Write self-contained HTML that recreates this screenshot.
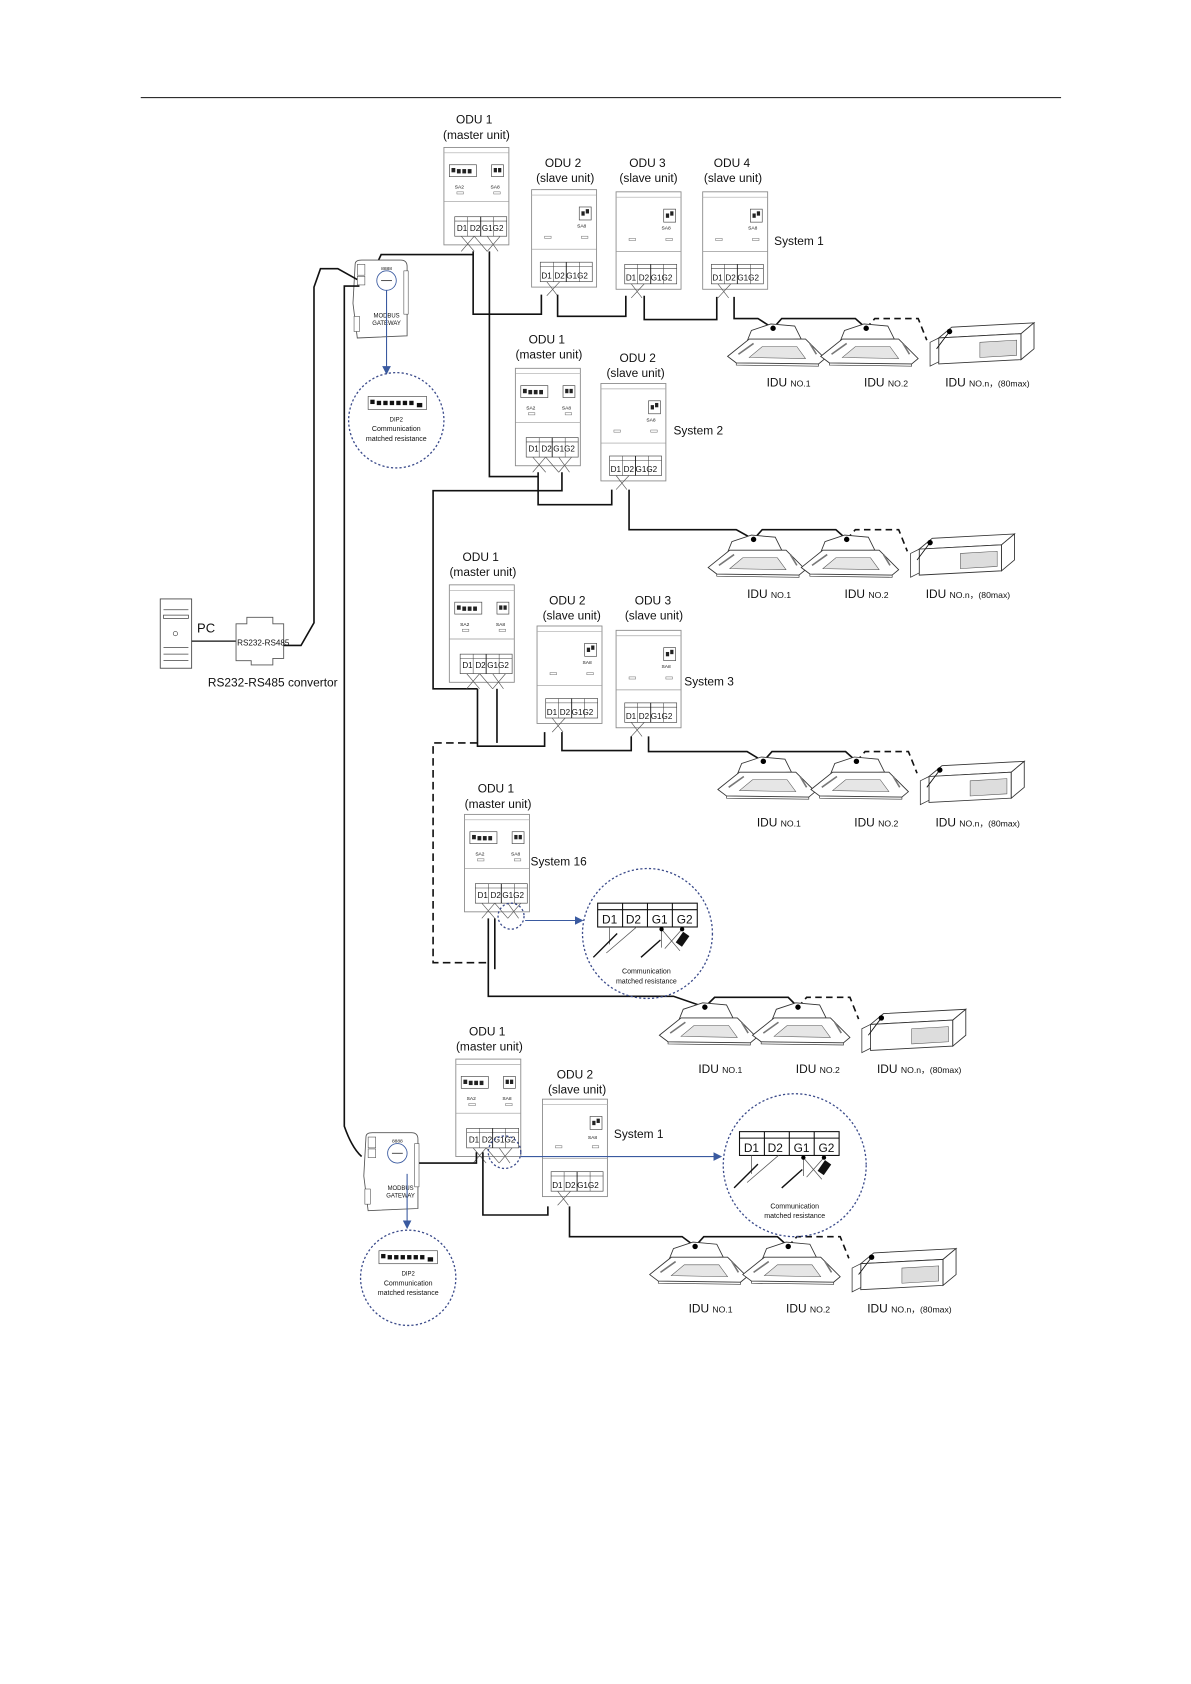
<!DOCTYPE html>
<html><head><meta charset="utf-8"><style>
html,body{margin:0;padding:0;background:#fff}
svg{display:block}
text{font-family:"Liberation Sans",sans-serif;fill:#111}
.w{fill:none;stroke:#111;stroke-width:1.5}
.t{fill:none;stroke:#555;stroke-width:0.6}
.box{fill:#fff;stroke:#888;stroke-width:0.8}
.blue{stroke:#3a5aa0;fill:none;stroke-width:1}
.dc{fill:none;stroke:#3a4a8a;stroke-width:1.2;stroke-dasharray:2 2}
</style></head><body>
<svg width="1191" height="1684" viewBox="0 0 1100 1555" xmlns="http://www.w3.org/2000/svg">
<defs>
<g id="master">
<rect class="box" x="0" y="0" width="60" height="90"/>
<line x1="0" y1="5" x2="60" y2="5" stroke="#aaa" stroke-width="0.6"/>
<rect x="5" y="16" width="25" height="11" fill="#fff" stroke="#444" stroke-width="0.6"/>
<rect x="7" y="19" width="3.5" height="4" fill="#222"/><rect x="12" y="20" width="3.5" height="4" fill="#222"/><rect x="17" y="20" width="3.5" height="4" fill="#222"/><rect x="22" y="20" width="3.5" height="4" fill="#222"/>
<rect x="44" y="16" width="11" height="11" fill="#fff" stroke="#444" stroke-width="0.6"/>
<rect x="46" y="19" width="3" height="4" fill="#222"/><rect x="50" y="19" width="3" height="4" fill="#222"/>
<rect x="12" y="41" width="6" height="2" fill="none" stroke="#777" stroke-width="0.5"/>
<rect x="46" y="41" width="6" height="2" fill="none" stroke="#777" stroke-width="0.5"/>
<line x1="0" y1="50" x2="60" y2="50" stroke="#999" stroke-width="0.6"/>
<rect x="10" y="64" width="48" height="18" fill="#fff" stroke="#444" stroke-width="0.6"/>
<line x1="10" y1="68" x2="58" y2="68" stroke="#444" stroke-width="0.5"/>
<line x1="22" y1="64" x2="22" y2="82" stroke="#444" stroke-width="0.5"/>
<line x1="34" y1="64" x2="34" y2="82" stroke="#111" stroke-width="0.8"/>
<line x1="46" y1="64" x2="46" y2="82" stroke="#444" stroke-width="0.5"/>
<path class="t" d="M16 82 L28 96 M28 82 L16 96 M40 82 L50 96 M52 82 L40 96 M28 82 L40 96"/>
</g>
<g id="slave">
<rect class="box" x="0" y="0" width="60" height="90"/>
<line x1="0" y1="5" x2="60" y2="5" stroke="#aaa" stroke-width="0.6"/>
<rect x="44" y="16" width="11" height="12" fill="#fff" stroke="#444" stroke-width="0.6"/>
<rect x="46" y="20" width="3" height="4" fill="#222"/><rect x="50" y="18" width="3" height="4" fill="#222"/>
<rect x="12" y="43" width="6" height="2" fill="none" stroke="#777" stroke-width="0.5"/>
<rect x="46" y="43" width="6" height="2" fill="none" stroke="#777" stroke-width="0.5"/>
<line x1="0" y1="55" x2="60" y2="55" stroke="#999" stroke-width="0.6"/>
<rect x="8" y="67" width="48" height="18" fill="#fff" stroke="#444" stroke-width="0.6"/>
<line x1="8" y1="71" x2="56" y2="71" stroke="#444" stroke-width="0.5"/>
<line x1="20" y1="67" x2="20" y2="85" stroke="#444" stroke-width="0.5"/>
<line x1="32" y1="67" x2="32" y2="85" stroke="#111" stroke-width="0.8"/>
<line x1="44" y1="67" x2="44" y2="85" stroke="#444" stroke-width="0.5"/>
<path class="t" d="M14 85 L24 98 M26 85 L14 98"/>
</g>
<g id="cas">
<path d="M-24 12 L-20 2 L-2 -4 L20 -2 L26 10 Z" fill="#fff" stroke="#333" stroke-width="0.8"/>
<path d="M-42 26 L-22 10 L30 10 L48 28 L42 33 L-34 32 Z" fill="#fff" stroke="#333" stroke-width="0.8"/>
<path d="M-34 32 L-34 34 L42 35 L42 33" fill="none" stroke="#333" stroke-width="0.6"/>
<path d="M-22 27 L-10 17 L22 17 L30 28 Z" fill="#e6e6e6" stroke="#555" stroke-width="0.5"/>
<path d="M-32 24 L-18 14 M34 14 L40 24" stroke="#777" stroke-width="1.5"/>
<circle cx="0" cy="0" r="2.5" fill="#000"/>
</g>
<g id="duct">
<path d="M-10 6 L2 -4 L78 -8 L66 2 Z" fill="#fff" stroke="#333" stroke-width="0.8"/>
<path d="M-10 6 L66 2 L66 26 L-10 30 Z" fill="#fff" stroke="#333" stroke-width="0.8"/>
<path d="M66 2 L78 -8 L78 16 L66 26 Z" fill="#fff" stroke="#333" stroke-width="0.8"/>
<path d="M-18 10 L-10 6 L-10 28 L-18 32 Z" fill="#fff" stroke="#333" stroke-width="0.7"/>
<path d="M28 10 L62 8 L62 22 L28 24 Z" fill="#ddd" stroke="#555" stroke-width="0.5"/>
<path d="M0 0 L-12 16" stroke="#111" stroke-width="0.8"/>
<circle cx="0" cy="0" r="2.5" fill="#000"/>
</g>
<g id="gw">
<path d="M2 4 Q2 0 8 0 L44 0 Q50 0 50 6 L50 70 L4 72 L0 40 Z" fill="#fff" stroke="#555" stroke-width="0.8"/>
<rect x="4" y="4" width="7" height="10" fill="#fff" stroke="#444" stroke-width="0.5"/>
<rect x="4" y="15" width="7" height="8" fill="#fff" stroke="#444" stroke-width="0.5"/>
<rect x="47" y="10" width="4" height="40" fill="#fff" stroke="#444" stroke-width="0.5"/>
<rect x="1" y="52" width="5" height="14" fill="#fff" stroke="#444" stroke-width="0.5"/>
<circle cx="31" cy="19" r="9" fill="#fff" stroke="#3a5aa0" stroke-width="0.8"/>
<line x1="26" y1="19" x2="36" y2="19" stroke="#333" stroke-width="0.8"/>
<text x="31" y="9" font-size="4.5" text-anchor="middle">8888</text>
</g>
<g id="dip">
<rect x="-27" y="-8" width="54" height="12" fill="#fff" stroke="#444" stroke-width="0.6"/>
<rect x="-25" y="-5" width="4" height="4" fill="#111"/><rect x="-19" y="-4" width="4" height="4" fill="#111"/><rect x="-13" y="-4" width="4" height="4" fill="#111"/><rect x="-7" y="-4" width="4" height="4" fill="#111"/><rect x="-1" y="-4" width="4" height="4" fill="#111"/><rect x="5" y="-4" width="4" height="4" fill="#111"/><rect x="11" y="-4" width="4" height="4" fill="#111"/><rect x="18" y="-2" width="5" height="4" fill="#111"/>
</g>
<marker id="ar" markerWidth="8" markerHeight="8" refX="7" refY="4" orient="auto"><path d="M0 0 L8 4 L0 8 Z" fill="#3a5aa0"/></marker>
</defs>

<line x1="130" y1="90" x2="980" y2="90" stroke="#111" stroke-width="1"/>

<!-- ===== System 1 ===== -->
<text x="438" y="114" font-size="11" text-anchor="middle">ODU 1</text>
<text x="440" y="128" font-size="11" text-anchor="middle">(master unit)</text>
<use href="#master" x="410" y="136"/>
<text x="420" y="174" font-size="4.5">SA2</text><text x="453" y="174" font-size="4.5">SA8</text>
<text x="422" y="213" font-size="7.5">D1</text><text x="434" y="213" font-size="7.5">D2</text><text x="445" y="213" font-size="7.5">G1G2</text>

<text x="520" y="154" font-size="11" text-anchor="middle">ODU 2</text>
<text x="522" y="168" font-size="11" text-anchor="middle">(slave unit)</text>
<use href="#slave" x="491" y="175"/>
<text x="533" y="210" font-size="4.5">SA8</text>
<text x="500" y="257" font-size="7.5">D1</text><text x="512" y="257" font-size="7.5">D2</text><text x="523" y="257" font-size="7.5">G1G2</text>

<text x="598" y="154" font-size="11" text-anchor="middle">ODU 3</text>
<text x="599" y="168" font-size="11" text-anchor="middle">(slave unit)</text>
<use href="#slave" x="569" y="177"/>
<text x="611" y="212" font-size="4.5">SA8</text>
<text x="578" y="259" font-size="7.5">D1</text><text x="590" y="259" font-size="7.5">D2</text><text x="601" y="259" font-size="7.5">G1G2</text>

<text x="676" y="154" font-size="11" text-anchor="middle">ODU 4</text>
<text x="677" y="168" font-size="11" text-anchor="middle">(slave unit)</text>
<use href="#slave" x="649" y="177"/>
<text x="691" y="212" font-size="4.5">SA8</text>
<text x="658" y="259" font-size="7.5">D1</text><text x="670" y="259" font-size="7.5">D2</text><text x="681" y="259" font-size="7.5">G1G2</text>
<text x="715" y="226" font-size="11">System 1</text>

<path class="w" d="M345 250 L352 235 L437 235"/>
<path class="w" d="M437 232 L437 290 L500 290 L500 272"/>
<path class="w" d="M452 232 L452 440 L497 440"/>
<path class="w" d="M515 272 L515 292 L578 292 L578 273"/>
<path class="w" d="M595 273 L595 295 L662 295 L662 274"/>
<path class="w" d="M678 274 L678 294 L700 294 L714 303 L722 294 L790 294 L800 303"/>
<path class="w" d="M800 303 L808 294 L848 294 L856 314" stroke-dasharray="6 4"/>
<use href="#cas" x="714" y="303"/><use href="#cas" x="800" y="303"/><use href="#duct" x="877" y="306"/>
<text x="708" y="357" font-size="11">IDU</text><text x="730" y="357" font-size="8">NO.1</text>
<text x="798" y="357" font-size="11">IDU</text><text x="820" y="357" font-size="8">NO.2</text>
<text x="873" y="357" font-size="11">IDU</text><text x="895" y="357" font-size="8">NO.n，(80max)</text>

<!-- gateway 1 -->
<use href="#gw" x="326" y="240"/>
<text x="357" y="293" font-size="5.5" text-anchor="middle">MODBUS</text>
<text x="357" y="300" font-size="5.5" text-anchor="middle">GATEWAY</text>
<line x1="357" y1="268" x2="357" y2="345" class="blue" marker-end="url(#ar)"/>
<circle cx="366" cy="388" r="44" class="dc"/>
<use href="#dip" x="367" y="374"/>
<text x="366" y="389" font-size="5.5" text-anchor="middle">DIP2</text>
<text x="366" y="398" font-size="6.5" text-anchor="middle">Communication</text>
<text x="366" y="407" font-size="6.5" text-anchor="middle">matched resistance</text>

<!-- PC and convertor -->
<rect x="148" y="553" width="29" height="64" fill="#fff" stroke="#444" stroke-width="0.8"/>
<path d="M151 563 L174 563 M151 568 L174 568 L174 571 L151 571 Z M151 598 L174 598 M151 604 L174 604 M151 610 L174 610" stroke="#444" fill="none" stroke-width="0.7"/>
<circle cx="162" cy="585" r="2" fill="none" stroke="#444" stroke-width="0.6"/>
<text x="182" y="584" font-size="12">PC</text>
<line x1="177" y1="592" x2="218" y2="592" stroke="#111" stroke-width="1.2"/>
<path d="M218 576 L228 576 L228 570 L252 570 L252 576 L262 576 L262 608 L252 608 L252 614 L232 614 L232 610 L218 610 Z" fill="#fff" stroke="#555" stroke-width="0.8"/>
<text x="219" y="596" font-size="7.5">RS232-RS485</text>
<text x="192" y="634" font-size="11">RS232-RS485 convertor</text>
<path class="w" d="M262 596 L278 596 L290 575 L290 265 L296 248 L312 248 L330 258" stroke-width="1.3"/>
<path class="w" d="M332 264 L318 264 L318 1040 Q325 1060 334 1068" stroke-width="1.3"/>

<!-- ===== System 2 ===== -->
<text x="505" y="317" font-size="11" text-anchor="middle">ODU 1</text>
<text x="507" y="331" font-size="11" text-anchor="middle">(master unit)</text>
<use href="#master" x="476" y="340"/>
<text x="486" y="378" font-size="4.5">SA2</text><text x="519" y="378" font-size="4.5">SA8</text>
<text x="488" y="417" font-size="7.5">D1</text><text x="500" y="417" font-size="7.5">D2</text><text x="511" y="417" font-size="7.5">G1G2</text>
<text x="589" y="334" font-size="11" text-anchor="middle">ODU 2</text>
<text x="587" y="348" font-size="11" text-anchor="middle">(slave unit)</text>
<use href="#slave" x="555" y="354"/>
<text x="597" y="389" font-size="4.5">SA8</text>
<text x="564" y="436" font-size="7.5">D1</text><text x="576" y="436" font-size="7.5">D2</text><text x="587" y="436" font-size="7.5">G1G2</text>
<text x="622" y="401" font-size="11">System 2</text>
<path class="w" d="M519 436 L519 453 L400 453 L400 636 L441 636"/>
<path class="w" d="M497 436 L497 466 L565 466 L565 452"/>
<path class="w" d="M581 452 L581 489 L680 489 L696 498 L704 489 L772 489 L782 498"/>
<path class="w" d="M782 498 L790 489 L830 489 L838 509" stroke-dasharray="6 4"/>
<use href="#cas" x="696" y="498"/><use href="#cas" x="782" y="498"/><use href="#duct" x="859" y="501"/>
<text x="690" y="552" font-size="11">IDU</text><text x="712" y="552" font-size="8">NO.1</text>
<text x="780" y="552" font-size="11">IDU</text><text x="802" y="552" font-size="8">NO.2</text>
<text x="855" y="552" font-size="11">IDU</text><text x="877" y="552" font-size="8">NO.n，(80max)</text>

<!-- ===== System 3 ===== -->
<text x="444" y="518" font-size="11" text-anchor="middle">ODU 1</text>
<text x="446" y="532" font-size="11" text-anchor="middle">(master unit)</text>
<use href="#master" x="415" y="540"/>
<text x="425" y="578" font-size="4.5">SA2</text><text x="458" y="578" font-size="4.5">SA8</text>
<text x="427" y="617" font-size="7.5">D1</text><text x="439" y="617" font-size="7.5">D2</text><text x="450" y="617" font-size="7.5">G1G2</text>
<text x="524" y="558" font-size="11" text-anchor="middle">ODU 2</text>
<text x="528" y="572" font-size="11" text-anchor="middle">(slave unit)</text>
<use href="#slave" x="496" y="578"/>
<text x="538" y="613" font-size="4.5">SA8</text>
<text x="505" y="660" font-size="7.5">D1</text><text x="517" y="660" font-size="7.5">D2</text><text x="528" y="660" font-size="7.5">G1G2</text>
<text x="603" y="558" font-size="11" text-anchor="middle">ODU 3</text>
<text x="604" y="572" font-size="11" text-anchor="middle">(slave unit)</text>
<use href="#slave" x="569" y="582"/>
<text x="611" y="617" font-size="4.5">SA8</text>
<text x="578" y="664" font-size="7.5">D1</text><text x="590" y="664" font-size="7.5">D2</text><text x="601" y="664" font-size="7.5">G1G2</text>
<text x="632" y="633" font-size="11">System 3</text>
<path class="w" d="M441 636 L441 689 L503 689 L503 676"/>
<path class="w" d="M459 636 L459 686"/>
<path class="w" d="M519 676 L519 693 L583 693 L583 680"/>
<path class="w" d="M599 680 L599 694 L690 694 L705 703 L713 694 L781 694 L791 703"/>
<path class="w" d="M791 703 L799 694 L839 694 L847 714" stroke-dasharray="6 4"/>
<path class="w" d="M441 686 L400 686 L400 889 L452 889" stroke-dasharray="7 4"/>
<use href="#cas" x="705" y="703"/><use href="#cas" x="791" y="703"/><use href="#duct" x="868" y="711"/>
<text x="699" y="763" font-size="11">IDU</text><text x="721" y="763" font-size="8">NO.1</text>
<text x="789" y="763" font-size="11">IDU</text><text x="811" y="763" font-size="8">NO.2</text>
<text x="864" y="763" font-size="11">IDU</text><text x="886" y="763" font-size="8">NO.n，(80max)</text>

<!-- ===== System 16 ===== -->
<text x="458" y="732" font-size="11" text-anchor="middle">ODU 1</text>
<text x="460" y="746" font-size="11" text-anchor="middle">(master unit)</text>
<use href="#master" x="429" y="752"/>
<text x="439" y="790" font-size="4.5">SA2</text><text x="472" y="790" font-size="4.5">SA8</text>
<text x="441" y="829" font-size="7.5">D1</text><text x="453" y="829" font-size="7.5">D2</text><text x="464" y="829" font-size="7.5">G1G2</text>
<text x="490" y="799" font-size="11">System 16</text>
<circle cx="472" cy="846" r="12" class="dc"/>
<line x1="485" y1="850" x2="538" y2="850" class="blue" marker-end="url(#ar)"/>
<path class="w" d="M451 848 L451 920 L622 920 L651 930 L660 921 L728 921 L737 930"/>
<path class="w" d="M457 848 L457 895"/>
<path class="w" d="M737 930 L745 921 L785 921 L793 941" stroke-dasharray="6 4"/>
<circle cx="598" cy="862" r="60" class="dc"/>
<rect x="552" y="834" width="92" height="22" fill="#fff" stroke="#111" stroke-width="1"/>
<line x1="552" y1="840" x2="644" y2="840" stroke="#111"/>
<line x1="575" y1="834" x2="575" y2="856" stroke="#111"/><line x1="598" y1="834" x2="598" y2="856" stroke="#111"/><line x1="621" y1="834" x2="621" y2="856" stroke="#111"/>
<text x="556" y="853" font-size="11">D1</text><text x="578" y="853" font-size="11">D2</text><text x="602" y="853" font-size="11">G1</text><text x="625" y="853" font-size="11">G2</text>
<path d="M563 856 L563 872 M588 856 L560 880 M611 858 L611 875 M611 858 L628 878 M630 858 L614 876" stroke="#555" stroke-width="0.7" fill="none"/>
<path d="M570 862 L548 884 M610 868 L592 884" stroke="#111" stroke-width="1.3"/>
<circle cx="611" cy="858" r="2" fill="#000"/><circle cx="630" cy="858" r="2" fill="#000"/>
<rect x="627" y="861" width="7" height="12" fill="#111" transform="rotate(35 630 867)"/>
<text x="597" y="899" font-size="6.5" text-anchor="middle">Communication</text>
<text x="597" y="908" font-size="6.5" text-anchor="middle">matched resistance</text>
<use href="#cas" x="651" y="930"/><use href="#cas" x="737" y="930"/><use href="#duct" x="814" y="940"/>
<text x="645" y="991" font-size="11">IDU</text><text x="667" y="991" font-size="8">NO.1</text>
<text x="735" y="991" font-size="11">IDU</text><text x="757" y="991" font-size="8">NO.2</text>
<text x="810" y="991" font-size="11">IDU</text><text x="832" y="991" font-size="8">NO.n，(80max)</text>

<!-- ===== Bottom System 1 ===== -->
<text x="450" y="956" font-size="11" text-anchor="middle">ODU 1</text>
<text x="452" y="970" font-size="11" text-anchor="middle">(master unit)</text>
<use href="#master" x="421" y="978"/>
<text x="431" y="1016" font-size="4.5">SA2</text><text x="464" y="1016" font-size="4.5">SA8</text>
<text x="433" y="1055" font-size="7.5">D1</text><text x="445" y="1055" font-size="7.5">D2</text><text x="456" y="1055" font-size="7.5">G1G2</text>
<text x="531" y="996" font-size="11" text-anchor="middle">ODU 2</text>
<text x="533" y="1010" font-size="11" text-anchor="middle">(slave unit)</text>
<use href="#slave" x="501" y="1015"/>
<text x="543" y="1052" font-size="4.5">SA8</text>
<text x="510" y="1097" font-size="7.5">D1</text><text x="522" y="1097" font-size="7.5">D2</text><text x="533" y="1097" font-size="7.5">G1G2</text>
<text x="567" y="1051" font-size="11">System 1</text>
<circle cx="466" cy="1064" r="15" class="dc"/>
<line x1="481" y1="1068" x2="666" y2="1068" class="blue" marker-end="url(#ar)"/>
<path class="w" d="M383 1074 L440 1074 L440 1064"/>
<path class="w" d="M446 1064 L446 1122 L506 1122 L506 1114"/>
<path class="w" d="M526 1114 L526 1142 L630 1142 L642 1151 L650 1142 L718 1142 L728 1151"/>
<path class="w" d="M728 1151 L736 1142 L776 1142 L784 1162" stroke-dasharray="6 4"/>
<circle cx="734" cy="1076" r="66" class="dc"/>
<rect x="683" y="1045" width="92" height="22" fill="#fff" stroke="#111" stroke-width="1"/>
<line x1="683" y1="1051" x2="775" y2="1051" stroke="#111"/>
<line x1="706" y1="1045" x2="706" y2="1067" stroke="#111"/><line x1="729" y1="1045" x2="729" y2="1067" stroke="#111"/><line x1="752" y1="1045" x2="752" y2="1067" stroke="#111"/>
<text x="687" y="1064" font-size="11">D1</text><text x="709" y="1064" font-size="11">D2</text><text x="733" y="1064" font-size="11">G1</text><text x="756" y="1064" font-size="11">G2</text>
<path d="M694 1067 L694 1084 M719 1067 L690 1092 M742 1069 L742 1086 M742 1069 L759 1089 M761 1069 L745 1087" stroke="#555" stroke-width="0.7" fill="none"/>
<path d="M700 1075 L678 1097 M741 1080 L722 1097" stroke="#111" stroke-width="1.3"/>
<circle cx="742" cy="1069" r="2" fill="#000"/><circle cx="761" cy="1069" r="2" fill="#000"/>
<rect x="758" y="1072" width="7" height="12" fill="#111" transform="rotate(35 761 1078)"/>
<text x="734" y="1116" font-size="6.5" text-anchor="middle">Communication</text>
<text x="734" y="1125" font-size="6.5" text-anchor="middle">matched resistance</text>
<use href="#cas" x="642" y="1151"/><use href="#cas" x="728" y="1151"/><use href="#duct" x="805" y="1161"/>
<text x="636" y="1212" font-size="11">IDU</text><text x="658" y="1212" font-size="8">NO.1</text>
<text x="726" y="1212" font-size="11">IDU</text><text x="748" y="1212" font-size="8">NO.2</text>
<text x="801" y="1212" font-size="11">IDU</text><text x="823" y="1212" font-size="8">NO.n，(80max)</text>

<!-- gateway 2 -->
<use href="#gw" x="336" y="1046"/>
<text x="370" y="1099" font-size="5.5" text-anchor="middle">MODBUS</text>
<text x="370" y="1106" font-size="5.5" text-anchor="middle">GATEWAY</text>
<line x1="376" y1="1084" x2="376" y2="1134" class="blue" marker-end="url(#ar)"/>
<circle cx="377" cy="1180" r="44" class="dc"/>
<use href="#dip" x="377" y="1163"/>
<text x="377" y="1178" font-size="5.5" text-anchor="middle">DIP2</text>
<text x="377" y="1187" font-size="6.5" text-anchor="middle">Communication</text>
<text x="377" y="1196" font-size="6.5" text-anchor="middle">matched resistance</text>
</svg>
</body></html>
